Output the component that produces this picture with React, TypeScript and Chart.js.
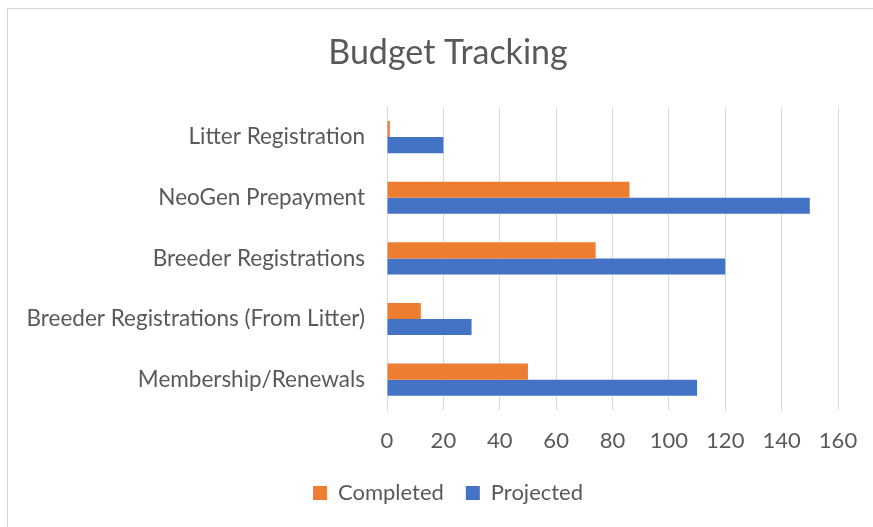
import React, { useEffect, useRef } from "react";
import { Chart, registerables } from "chart.js";

Chart.register(...registerables);

const categories = [
  "Litter Registration",
  "NeoGen Prepayment",
  "Breeder Registrations",
  "Breeder Registrations (From Litter)",
  "Membership/Renewals",
];
const completed = [1, 86, 74, 12, 50];
const projected = [20, 150, 120, 30, 110];
const xMin = 0;
const xMax = 160;
const xStep = 20;

const FONT = "Lato, 'Open Sans', sans-serif";
const TEXT = "#595959";
const GRID = "#d9d9d9";

export default function App() {
  const ref = useRef<HTMLCanvasElement | null>(null);

  useEffect(() => {
    if (!ref.current) return;
    const chart = new Chart(ref.current, {
      type: "bar",
      data: {
        labels: categories,
        datasets: [
          {
            label: "Completed",
            data: completed,
            backgroundColor: "#ED7D31",
            borderWidth: 0,
            barPercentage: 1,
            categoryPercentage: 0.53,
          },
          {
            label: "Projected",
            data: projected,
            backgroundColor: "#4472C4",
            borderWidth: 0,
            barPercentage: 1,
            categoryPercentage: 0.53,
          },
        ],
      },
      options: {
        indexAxis: "y",
        animation: false,
        responsive: false,
        maintainAspectRatio: false,
        layout: { padding: { bottom: 13 } },
        plugins: {
          title: {
            display: true,
            text: "Budget Tracking",
            color: TEXT,
            font: { family: FONT, size: 34, weight: "normal" },
            padding: { top: 24, bottom: 33 },
          },
          legend: {
            display: true,
            position: "bottom",
            labels: {
              color: TEXT,
              font: { family: FONT, size: 22 },
              boxWidth: 14,
              boxHeight: 14,
              padding: 22,
            },
          },
          tooltip: { enabled: false },
        },
        scales: {
          x: {
            type: "linear",
            min: xMin,
            max: xMax,
            ticks: {
              stepSize: xStep,
              color: TEXT,
              font: { family: FONT, size: 22 },
              padding: 18,
            },
            grid: { color: GRID, lineWidth: 1, drawTicks: false },
            border: { display: false },
            afterFit: (s: any) => {
              s.height = 50;
            },
          },
          y: {
            type: "category",
            ticks: {
              color: TEXT,
              font: { family: FONT, size: 22.5 },
              padding: 22,
            },
            grid: { display: false, drawTicks: false },
            border: { display: true, color: GRID },
            afterFit: (s: any) => {
              s.width = 379;
            },
          },
          yRight: {
            type: "category",
            position: "right",
            labels: categories,
            ticks: { display: false },
            grid: { display: false, drawTicks: false },
            border: { display: false },
            afterFit: (s: any) => {
              s.width = 50;
            },
          },
        },
      },
    });
    return () => chart.destroy();
  }, []);

  return (
    <div
      style={{
        position: "fixed",
        left: 0,
        top: 0,
        width: 873,
        height: 527,
        overflow: "hidden",
        background: "#fff",
      }}
    >
      <div
        style={{
          position: "absolute",
          left: 7,
          top: 8,
          width: 900,
          height: 540,
          borderLeft: "1px solid #d4d4d4",
          borderTop: "1px solid #d4d4d4",
        }}
      >
        <canvas ref={ref} width={880} height={518} style={{ display: "block" }} />
      </div>
    </div>
  );
}
